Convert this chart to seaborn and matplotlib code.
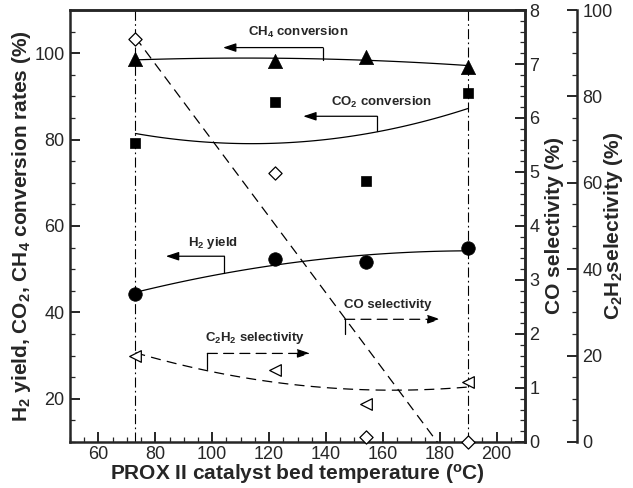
import matplotlib
matplotlib.use("Agg")
import matplotlib.pyplot as plt
from matplotlib.ticker import MultipleLocator
import numpy as np
import pandas as pd
import seaborn as sns

# PROX II catalyst bed temperatures (°C)
temperature = [73, 122, 154, 190]

# Left axis: yields and conversion rates (%)
ch4_conversion = [98.6, 98.2, 99.1, 96.9]
co2_conversion = [79.2, 88.8, 70.3, 90.8]
h2_yield = [44.3, 52.4, 51.6, 54.8]

# Right axes: selectivities (%)
co_selectivity = [7.46, 4.98, 0.09, 0.0]
c2h2_selectivity = [20.0, 16.7, 8.8, 13.8]

x_ticks = [60, 80, 100, 120, 140, 160, 180, 200]

sns.set_style("ticks")
plt.rcParams["font.family"] = ["Liberation Sans", "DejaVu Sans"]
plt.rcParams["mathtext.fontset"] = "custom"
plt.rcParams["mathtext.rm"] = "Liberation Sans"
plt.rcParams["mathtext.bf"] = "Liberation Sans:bold"
plt.rcParams["mathtext.it"] = "Liberation Sans:italic"

df = pd.DataFrame({
    "T": temperature,
    "CH4": ch4_conversion,
    "CO2": co2_conversion,
    "H2": h2_yield,
    "CO": co_selectivity,
    "C2H2": c2h2_selectivity,
})

fig = plt.figure(figsize=(6.33, 4.88), dpi=100)
ax = fig.add_axes([0.1106, 0.0943, 0.7188, 0.8852])
ax2 = ax.twinx()
ax3 = ax.twinx()

dash = (0, (8, 5))
line_kw = dict(color="black", lw=0.9)

# --- left axis: conversions and H2 yield ---
for col, mk, s in [("CH4", "^", 105), ("CO2", "s", 55), ("H2", "o", 95)]:
    sns.regplot(data=df, x="T", y=col, order=2, ci=None, scatter=False,
                ax=ax, line_kws=line_kw)
    sns.scatterplot(data=df, x="T", y=col, marker=mk, s=s, color="black",
                    edgecolor="black", linewidth=0.5, ax=ax, zorder=5)

# vertical dash-dot guides at the lowest and highest temperatures
for t in (temperature[0], temperature[-1]):
    ax.axvline(t, color="black", lw=0.8, ls=(0, (9, 3, 1.5, 3)))

# --- CO selectivity (first right axis) ---
sns.regplot(data=df, x="T", y="CO", order=1, ci=None, scatter=False, ax=ax2,
            line_kws=dict(color="black", lw=0.9, ls=dash))
sns.scatterplot(data=df, x="T", y="CO", marker="D", s=45, facecolor="white",
                edgecolor="black", linewidth=0.9, ax=ax2, zorder=5,
                clip_on=False)

# --- C2H2 selectivity (second right axis) ---
sns.regplot(data=df, x="T", y="C2H2", order=2, ci=None, scatter=False, ax=ax3,
            line_kws=dict(color="black", lw=0.9, ls=dash))
sns.scatterplot(data=df, x="T", y="C2H2", marker="<", s=70, facecolor="white",
                edgecolor="black", linewidth=0.9, ax=ax3, zorder=5)

# --- axis limits and ticks ---
ax.set_xlim(50, 210)
ax.set_ylim(10, 110)
ax.set_xticks(x_ticks)
ax.xaxis.set_minor_locator(MultipleLocator(5))
ax.set_yticks([20, 40, 60, 80, 100])
ax.yaxis.set_minor_locator(MultipleLocator(5))

ax2.set_ylim(0, 8)
ax2.yaxis.set_major_locator(MultipleLocator(1))
ax2.yaxis.set_minor_locator(MultipleLocator(0.2))

ax3.set_ylim(0, 100)
ax3.yaxis.set_major_locator(MultipleLocator(20))
ax3.yaxis.set_minor_locator(MultipleLocator(5))
ax3.spines["right"].set_position(("outward", 37.4))

for a in (ax, ax2, ax3):
    for sp in a.spines.values():
        sp.set_linewidth(1.8)
    a.tick_params(which="major", direction="in", length=7, width=1.4,
                  labelsize=13, pad=4)
    a.tick_params(which="minor", direction="in", length=3.5, width=0.9)

ax.tick_params(axis="both", which="both", top=False, right=False)
ax.tick_params(axis="x", which="major", pad=3)
ax2.tick_params(axis="y", which="both", left=False, labelleft=False)
ax3.tick_params(axis="y", which="both", left=False, labelleft=False)
ax2.tick_params(axis="y", which="major", pad=3)
ax3.spines["left"].set_visible(False)
ax3.spines["top"].set_visible(False)
ax3.spines["bottom"].set_visible(False)
ax2.spines["left"].set_visible(False)
ax2.spines["bottom"].set_visible(False)

# --- axis labels ---
lab_kw = dict(fontsize=15, fontweight="bold")
ax.set_xlabel(r"PROX II catalyst bed temperature ($^\mathbf{o}$C)", labelpad=-1, **lab_kw)
ax.set_ylabel(r"H$_\mathbf{2}$ yield, CO$_\mathbf{2}$, CH$_\mathbf{4}$ conversion rates (%)", **lab_kw)
ax.yaxis.set_label_coords(-0.081, 0.5)
ax2.set_ylabel("CO selectivity (%)", **lab_kw)
ax2.yaxis.set_label_coords(1.045, 0.5)
ax3.set_ylabel(r"C$_\mathbf{2}$H$_\mathbf{2}$selectivity (%)", **lab_kw)
ax3.yaxis.set_label_coords(1.17, 0.5)

# --- callouts with brackets and arrows (left-axis coordinates) ---
txt_kw = dict(fontsize=9.5, fontweight="bold", ha="center", va="center")

def callout(label, tx, ty, bx, by_top, by_bot, ax_end, dashed=False):
    ls = dash if dashed else "-"
    ax.text(tx, ty, label, **txt_kw)
    ax.plot([bx, bx], [by_bot, by_top], color="black", lw=0.9, ls="-")
    ax.annotate("", xy=(ax_end, by_top), xytext=(bx, by_top),
                arrowprops=dict(arrowstyle="-|>,head_length=0.6,head_width=0.2",
                                color="black", lw=0.9, ls=ls, mutation_scale=13,
                                shrinkA=0, shrinkB=0))

callout(r"CH$_\mathbf{4}$ conversion", 130.3, 104.7, 139.0, 101.3, 98.4, 103.8)
callout(r"CO$_\mathbf{2}$ conversion", 159.5, 88.5, 158.0, 85.4, 82.0, 132.0)
callout(r"H$_\mathbf{2}$ yield", 100.2, 56.0, 104.3, 53.0, 49.2, 83.7)
callout(r"C$_\mathbf{2}$H$_\mathbf{2}$ selectivity", 115.2, 34.0, 98.3, 30.5, 26.9, 134.5, dashed=True)
callout("CO selectivity", 161.6, 41.6, 146.6, 38.4, 35.0, 180.3, dashed=True)

fig.savefig("out.png", dpi=100)
